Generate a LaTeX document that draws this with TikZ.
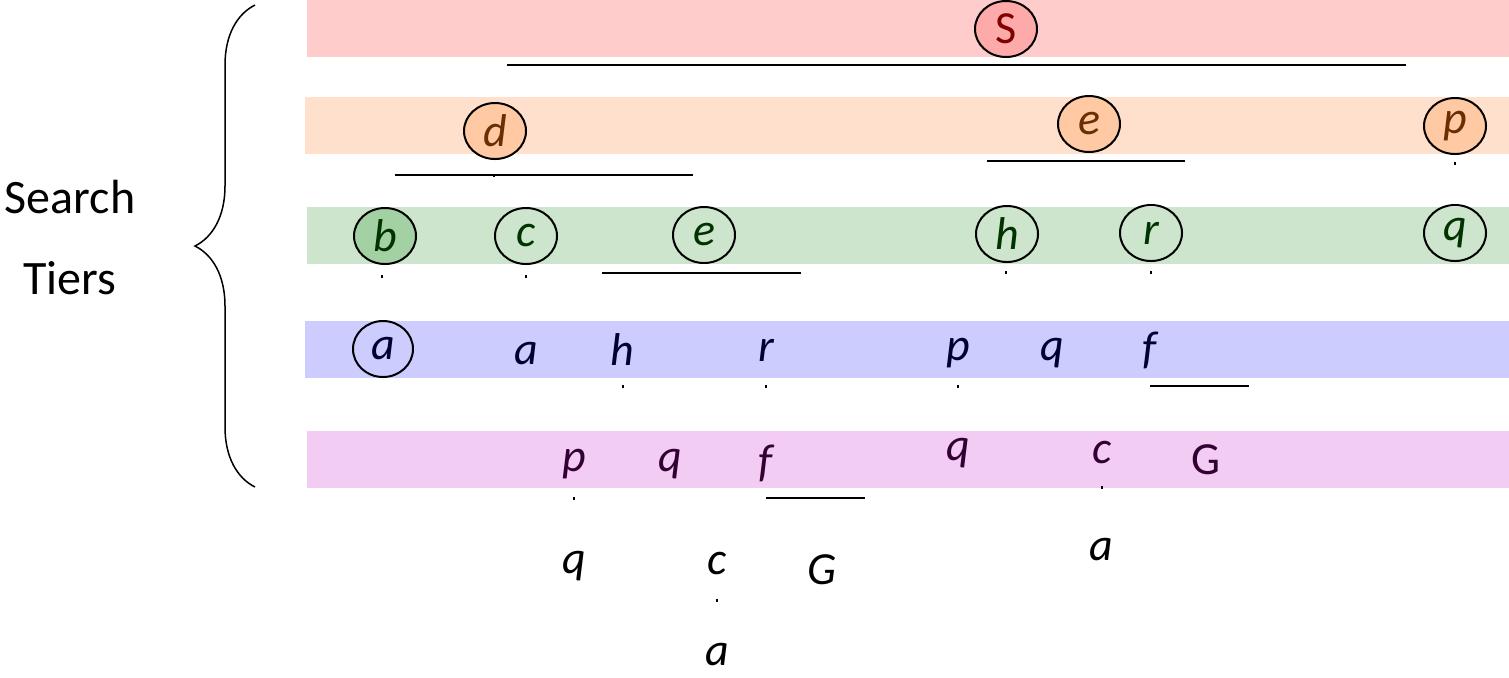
\documentclass[tikz,border=0pt]{standalone}
\usepackage{fontspec}
\setmainfont{Carlito}
\usepackage{xcolor}
\usetikzlibrary{shapes.geometric, decorations.pathreplacing}

\definecolor{bandS}{HTML}{FFCCCC}
\definecolor{fillS}{HTML}{FFAAAA}
\definecolor{textS}{HTML}{800000}
\definecolor{bandO}{HTML}{FEE0CC}
\definecolor{fillO}{HTML}{FFC9A3}
\definecolor{textO}{HTML}{6B2E00}
\definecolor{bandG}{HTML}{CCE5CC}
\definecolor{fillG}{HTML}{A3D1A3}
\definecolor{textG}{HTML}{003300}
\definecolor{bandB}{HTML}{CCCCFF}
\definecolor{textB}{HTML}{000033}
\definecolor{bandP}{HTML}{F3CCF3}
\definecolor{textP}{HTML}{330033}

\newcommand\tierfont{\fontsize{23}{27}\selectfont\itshape}

\begin{document}
\begin{tikzpicture}[
x=0.5pt, y=-0.5pt,
    state/.style={ellipse, draw, line width=1pt, inner sep=0pt, minimum width=31pt, minimum height=28pt, font=\tierfont},
    leaf/.style={inner sep=0pt, font=\tierfont},
    bar/.style={draw, line width=1pt},
    tick/.style={draw, line width=0.6pt}
]
    \useasboundingbox (0,0) rectangle (1509,677);

    % Tier bands
    \fill[bandS] (307,0) rectangle (1509,57);
    \fill[bandO] (305,97) rectangle (1509,154);
    \fill[bandG] (307,207) rectangle (1509,264);
    \fill[bandB] (305,321) rectangle (1509,378);
    \fill[bandP] (307,431) rectangle (1509,488);

    % Label and brace
    \node[font=\fontsize{24}{29}\selectfont] (search) at (70,197) {Search};
    \node[font=\fontsize{24}{29}\selectfont] (tiers) at (70,278) {Tiers};
    \draw[line width=0.75pt, decorate, decoration={brace, amplitude=30pt}] (255,487) -- (255,5);

    % Tier 1
    \node[state, fill=fillS, text=textS, font=\fontsize{23}{27}\selectfont] (S) at (1006,29) {S};

    % Tier 2
    \node[state, fill=fillO, text=textO] (d) at (495,131) {d};
    \node[state, fill=fillO, text=textO] (e1) at (1089,124) {e};
    \node[state, fill=fillO, text=textO] (p1) at (1455,126) {p};

    % Tier 3
    \node[state, fill=fillG, text=textG] (b) at (385,236) {b};
    \node[state, text=textG] (c1) at (526,236) {c};
    \node[state, text=textG] (e2) at (704,235) {e};
    \node[state, text=textG] (h1) at (1007,234) {h};
    \node[state, text=textG] (r1) at (1151,233) {r};
    \node[state, text=textG] (q1) at (1455,233) {q};

    % Tier 4
    \node[state, minimum width=30pt, text=textB] (a1) at (383,349) {a};
    \node[leaf, text=textB] (a2) at (526,354) {a};
    \node[leaf, text=textB] (h2) at (622,350) {h};
    \node[leaf, text=textB] (r2) at (766,350) {r};
    \node[leaf, text=textB] (p2) at (958,353) {p};
    \node[leaf, text=textB] (q2) at (1052,353) {q};
    \node[leaf, text=textB] (f1) at (1150,350) {f};

    % Tier 5
    \node[leaf, text=textP] (p3) at (574,464) {p};
    \node[leaf, text=textP] (q3) at (670,464) {q};
    \node[leaf, text=textP] (f2) at (766,463) {f};
    \node[leaf, text=textP] (q4) at (958,453) {q};
    \node[leaf, text=textP] (c2) at (1102,452) {c};
    \node[leaf, text=textP, font=\fontsize{23}{27}\selectfont] (G1) at (1206,460) {G};

    % Below the tiers
    \node[leaf] (q5) at (574,566) {q};
    \node[leaf] (c3) at (717,563) {c};
    \node[leaf] (G2) at (822,570) {G};
    \node[leaf] (a3) at (717,655) {a};
    \node[leaf] (a4) at (1101,550) {a};

    % Branch bars
    \coordinate (sL) at (507,65);   \coordinate (sR) at (1406,65);
    \coordinate (dL) at (395,175);  \coordinate (dR) at (693,175);
    \coordinate (eL) at (987,161);  \coordinate (eR) at (1185,161);
    \coordinate (gL) at (602,273);  \coordinate (gR) at (801,273);
    \coordinate (fL) at (1150,386); \coordinate (fR) at (1249,386);
    \coordinate (hL) at (766,498);  \coordinate (hR) at (865,498);
    \draw[bar] (sL) -- (sR);
    \draw[bar] (dL) -- (dR);
    \draw[bar] (eL) -- (eR);
    \draw[bar] (gL) -- (gR);
    \draw[bar] (fL) -- (fR);
    \draw[bar] (hL) -- (hR);

    % Single-child stubs
    \foreach \x/\y in {494/174, 382/275, 526/275, 1006/271, 1151/271, 1455/162,
                       623/385, 766/385, 958/385, 574/497, 717/599, 1102/486}
        \draw[tick] (\x,\y) -- (\x,\y+3);

\end{tikzpicture}
\end{document}
